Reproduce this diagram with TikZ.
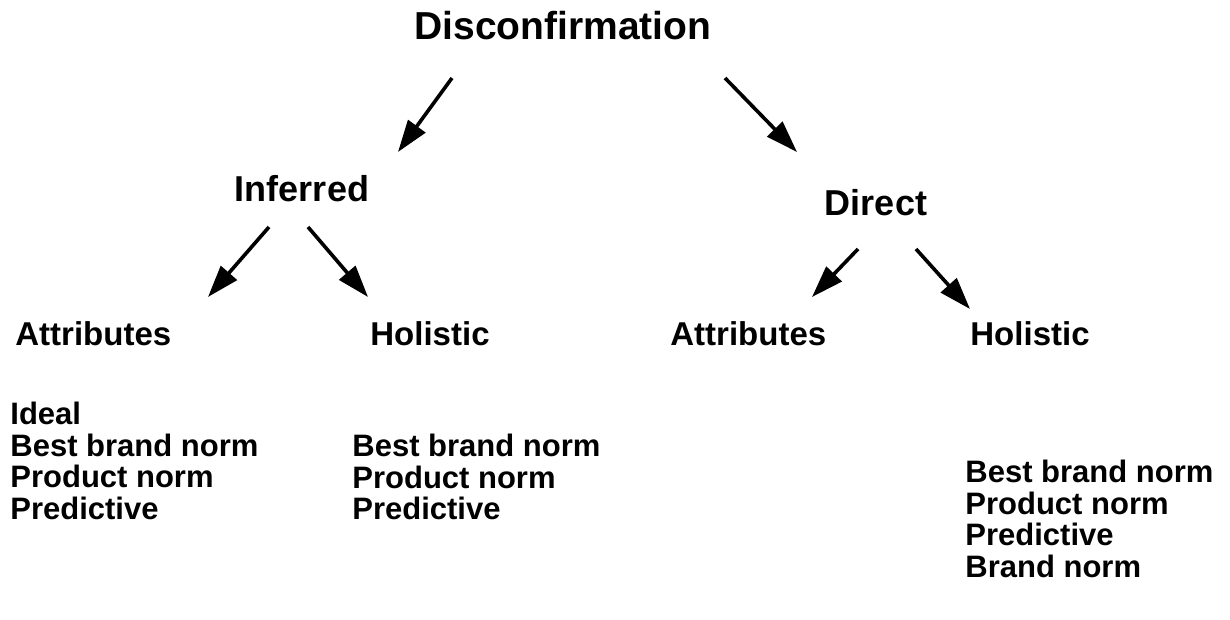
\documentclass[tikz,border=0pt]{standalone}
\usepackage{fontspec}
\setmainfont{Liberation Sans}
\usetikzlibrary{arrows.meta}

\tikzset{
	toplabel/.style={font=\fontsize{19.5}{20}\selectfont\bfseries, inner sep=0pt},
	midlabel/.style={font=\fontsize{18}{19}\selectfont\bfseries, inner sep=0pt},
	leaflabel/.style={font=\fontsize{16.5}{18}\selectfont\bfseries, inner sep=0pt},
	measlist/.style={font=\fontsize{15.5}{15.75}\selectfont\bfseries, inner sep=0pt, align=left, anchor=north west},
	arr/.style={-{Triangle[length=16pt, width=10.5pt]}, line width=1.8pt}
}

\begin{document}
\begin{tikzpicture}[x=0.5pt, y=-0.5pt]
	\useasboundingbox (0,0) rectangle (1230,620);
	% headings
	\node[toplabel, anchor=base] (disc) at (563,40) {Disconfirmation};
	\node[midlabel, anchor=base] (inf) at (302,202) {Inferred};
	\node[midlabel, anchor=base] (dir) at (876,215) {Direct};
	\node[leaflabel, anchor=base west] (infatt) at (15,345) {Attributes};
	\node[leaflabel, anchor=base west] (infhol) at (370,345) {Holistic};
	\node[leaflabel, anchor=base west] (diratt) at (670,345) {Attributes};
	\node[leaflabel, anchor=base west] (dirhol) at (970,345) {Holistic};
	% measures
	\node[measlist] (infattlist) at (10,402) {Ideal\\Best brand norm\\Product norm\\Predictive};
	\node[measlist] (infhollist) at (352,434) {Best brand norm\\Product norm\\Predictive};
	\node[measlist] (dirhollist) at (965,460) {Best brand norm\\Product norm\\Predictive\\Brand norm};
	% arrow ends
	\coordinate (disc-l) at (452,78);
	\coordinate (disc-r) at (725,78);
	\coordinate (inf-t) at (398,152);
	\coordinate (dir-t) at (797,152);
	\coordinate (inf-l) at (269,227);
	\coordinate (inf-r) at (308,227);
	\coordinate (infatt-t) at (208,297);
	\coordinate (infhol-t) at (368,297);
	\coordinate (dir-l) at (858,249);
	\coordinate (dir-r) at (916,249);
	\coordinate (diratt-t) at (812,297);
	\coordinate (dirhol-t) at (970,309);
	\draw[arr] (disc-l) -- (inf-t);
	\draw[arr] (disc-r) -- (dir-t);
	\draw[arr] (inf-l) -- (infatt-t);
	\draw[arr] (inf-r) -- (infhol-t);
	\draw[arr] (dir-l) -- (diratt-t);
	\draw[arr] (dir-r) -- (dirhol-t);
\end{tikzpicture}
\end{document}
